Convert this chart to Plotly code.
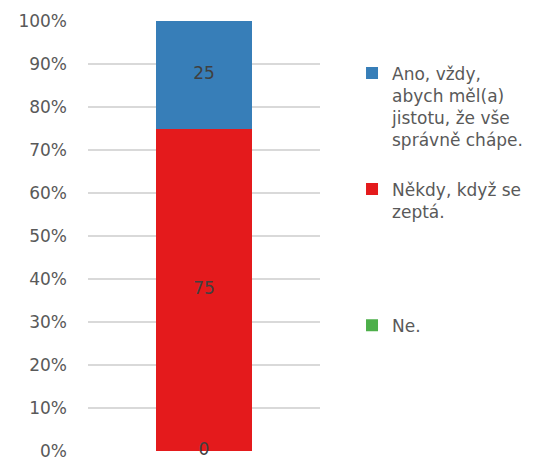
import plotly.graph_objects as go

categories = [""]
series_names = ["Ne.", "Někdy, když se<br>zeptá.", "Ano, vždy,<br>abych měl(a)<br>jistotu, že vše<br>správně chápe."]
series_values = [0, 75, 25]
series_colors = ["#4DAF4A", "#E41A1C", "#377EB8"]
tick_vals = [0, 10, 20, 30, 40, 50, 60, 70, 80, 90, 100]
tick_text = [f"{v}%" for v in tick_vals]

FONT = "DejaVu Sans"
GRAY = "#595959"
FS = 17

fig = go.Figure()
legend_ids = ["legend3", "legend2", "legend"]
for name, val, col, lg in zip(series_names, series_values, series_colors, legend_ids):
    fig.add_trace(go.Bar(
        x=categories, y=[val], name=name, marker_color=col,
        marker_line_width=0, legend=lg, hoverinfo="skip",
    ))

# data labels at the middle of each stacked segment
mids, base = [], 0
for v in series_values:
    mids.append(base + v / 2)
    base += v
fig.add_trace(go.Scatter(
    x=categories * len(series_values), y=mids, mode="text",
    text=[str(v) for v in series_values],
    textfont=dict(family=FONT, size=FS, color="#404040"),
    showlegend=False, cliponaxis=False, hoverinfo="skip",
))

leg_common = dict(font=dict(family=FONT, size=FS, color=GRAY), bgcolor="rgba(0,0,0,0)",
                  xanchor="left", yanchor="top", x=0.138, itemclick=False,
                  tracegroupgap=0, valign="top")
leg_common["x"] = 1.138

fig.update_layout(
    width=537, height=462,
    margin=dict(l=88, r=217, t=21, b=11, autoexpand=False),
    paper_bgcolor="white", plot_bgcolor="white",
    barmode="stack", bargap=0.59,
    font=dict(family=FONT, size=FS, color=GRAY),
    xaxis=dict(showticklabels=False, showgrid=False, zeroline=False, showline=False, range=[-0.5, 0.5]),
    yaxis=dict(range=[0, 100], tickvals=tick_vals, ticktext=tick_text,
               showgrid=True, gridcolor="#D9D9D9", gridwidth=2, zeroline=False,
               showline=False, ticks="", ticklabelstandoff=20,
               tickfont=dict(family=FONT, size=FS, color=GRAY)),
    legend=dict(**leg_common, y=0.92),
    legend2=dict(**leg_common, y=0.65),
    legend3=dict(**leg_common, y=0.333),
)

fig.write_html("out.html", config={"displayModeBar": False},
               post_script="document.body.style.margin='0';document.body.style.overflow='hidden';")
